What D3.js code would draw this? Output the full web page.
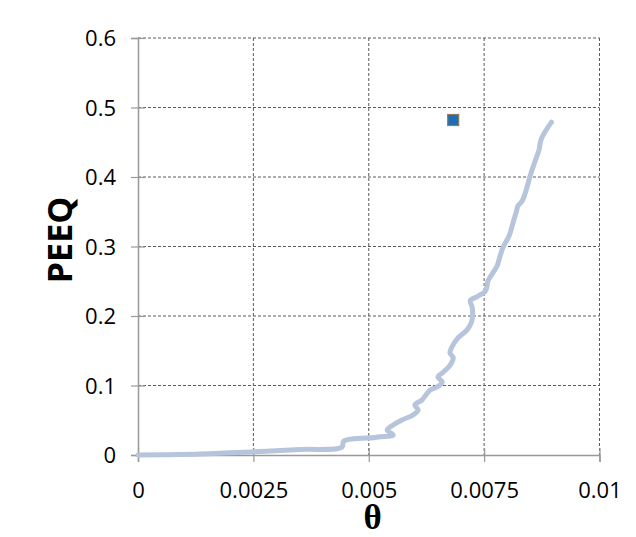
<!DOCTYPE html>
<html>
<head>
<meta charset="utf-8">
<script src="https://cdn.jsdelivr.net/npm/d3@7"></script>
<style>
  body { margin: 0; background: #fff; }
  svg { display: block; }
</style>
</head>
<body>
<div id="chart"></div>
<script>
// theta vs PEEQ
var theta = [0, 0.00134, 0.00243, 0.00351, 0.00442, 0.00446, 0.00514, 0.00524, 0.00553, 0.0054,
  0.00553, 0.00572, 0.00596, 0.00607, 0.006, 0.00615, 0.00633, 0.00648, 0.00659, 0.0065,
  0.00661, 0.00676, 0.00683, 0.00676, 0.0068, 0.00693, 0.00713, 0.00722, 0.00725, 0.00724,
  0.0072, 0.00735, 0.00752, 0.00756, 0.00758, 0.00769, 0.00778, 0.00784, 0.00791, 0.00804,
  0.00813, 0.00821, 0.00823, 0.00832, 0.00841, 0.00849, 0.0086, 0.00869, 0.00873, 0.00882, 0.00896];
var peeq = [0, 0.0014, 0.0043, 0.0079, 0.0115, 0.0201, 0.0252, 0.0263, 0.0288, 0.036,
  0.0432, 0.0504, 0.0576, 0.0647, 0.072, 0.079, 0.0935, 0.0978, 0.105, 0.112,
  0.119, 0.129, 0.14, 0.147, 0.155, 0.168, 0.18, 0.19, 0.201, 0.213,
  0.222, 0.228, 0.235, 0.242, 0.25, 0.262, 0.272, 0.285, 0.299, 0.315,
  0.335, 0.353, 0.358, 0.365, 0.381, 0.4, 0.422, 0.439, 0.453, 0.465, 0.479];
var markTheta = [0.00683];
var markPeeq = [0.482];
var xTicks = [0, 0.0025, 0.005, 0.0075, 0.01];
var yTicks = [0, 0.1, 0.2, 0.3, 0.4, 0.5, 0.6];

var width = 636, height = 537;
var padL = 138, padR = 599.5, padT = 38, padB = 455;

var x = d3.scaleLinear().domain([0, 0.01]).range([padL, padR]);
var y = d3.scaleLinear().domain([0, 0.6]).range([padB, padT]);

var svg = d3.select("#chart").append("svg")
  .attr("width", width)
  .attr("height", height);

// dashed grid
svg.append("g").selectAll("line").data(xTicks.slice(1)).enter().append("line")
  .attr("x1", function(d) { return x(d); }).attr("x2", function(d) { return x(d); })
  .attr("y1", padT).attr("y2", padB)
  .attr("stroke", "#5a5a5a").attr("stroke-width", 1).attr("stroke-dasharray", "3,2");
svg.append("g").selectAll("line").data(yTicks.slice(1)).enter().append("line")
  .attr("x1", padL).attr("x2", padR)
  .attr("y1", function(d) { return y(d); }).attr("y2", function(d) { return y(d); })
  .attr("stroke", "#5a5a5a").attr("stroke-width", 1).attr("stroke-dasharray", "3,2");

// axes
var xAxis = d3.axisBottom(x).tickValues(xTicks).tickSize(7)
  .tickFormat(function(d) { return d === 0 ? "0" : String(+d.toFixed(4)); });
var yAxis = d3.axisLeft(y).tickValues(yTicks).tickSize(7)
  .tickFormat(function(d) { return d === 0 ? "0" : String(+d.toFixed(1)); });

var gx = svg.append("g").attr("transform", "translate(0," + padB + ")").call(xAxis);
var gy = svg.append("g").attr("transform", "translate(" + padL + ",0)").call(yAxis);

[gx, gy].forEach(function(g) {
  g.select(".domain").attr("stroke", "#999").attr("stroke-width", 1.5);
  g.selectAll(".tick line").attr("stroke", "#999").attr("stroke-width", 1.2);
  g.selectAll("text").attr("fill", "#000")
    .style("font-family", "'Open Sans', sans-serif").style("font-size", "22px");
});
gx.selectAll(".tick line").attr("y1", -7);
gx.selectAll("text").attr("dy", "0").attr("y", 43);
gy.selectAll(".tick line").attr("x2", 7).attr("x1", -7);
gy.selectAll("text").attr("x", -22).attr("dy", "0.35em");

// curve
var pts = theta.map(function(t, i) { return [t, peeq[i]]; });
var line = d3.line()
  .x(function(d) { return x(d[0]); })
  .y(function(d) { return y(d[1]); })
  .curve(d3.curveCatmullRom.alpha(0.5));

svg.append("path").datum(pts)
  .attr("d", line)
  .attr("fill", "none")
  .attr("stroke", "#b6c4dc")
  .attr("stroke-width", 5)
  .attr("stroke-linejoin", "round")
  .attr("stroke-linecap", "round");

// single marker
svg.append("g").selectAll("rect").data(markTheta).enter().append("rect")
  .attr("x", function(d) { return x(d) - 5.5; })
  .attr("y", function(d, i) { return y(markPeeq[i]) - 5.5; })
  .attr("width", 11).attr("height", 11)
  .attr("fill", "#1f6db3")
  .attr("stroke", "#8a7d64").attr("stroke-width", 1.2);

// axis titles
svg.append("text")
  .attr("x", x(0.005) + 4).attr("y", 529)
  .attr("text-anchor", "middle")
  .style("font-family", "'Liberation Serif', serif")
  .style("font-weight", "bold").style("font-size", "35px")
  .text("θ");

svg.append("text")
  .attr("transform", "translate(72," + 240 + ") rotate(-90)")
  .attr("text-anchor", "middle")
  .style("font-family", "'Open Sans', sans-serif")
  .style("font-weight", "bold").style("font-size", "34px")
  .text("PEEQ");
</script>
</body>
</html>
